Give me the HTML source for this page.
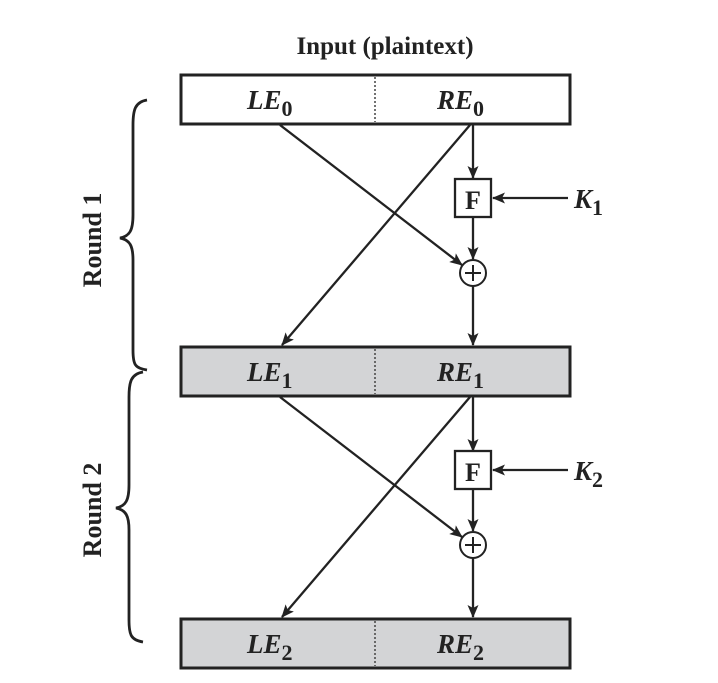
<!DOCTYPE html>
<html><head><meta charset="utf-8"><style>
html,body{margin:0;padding:0;background:#fff;}
svg{display:block;}
text{font-family:"Liberation Serif",serif;font-weight:bold;fill:#222;}
</style></head><body>
<svg width="718" height="683" viewBox="0 0 718 683">
<defs>
<marker id="ah" markerWidth="13" markerHeight="11" refX="12" refY="5.5" orient="auto" markerUnits="userSpaceOnUse">
<path d="M0,0 L13,5.5 L0,11 L3,5.5 Z" fill="#222"/>
</marker>
</defs>
<text x="385" y="54" font-size="25" text-anchor="middle">Input (plaintext)</text>

<g>
<rect x="181" y="75" width="389" height="49" fill="#fff" stroke="#222" stroke-width="3"/>
<line x1="375" y1="77" x2="375" y2="122" stroke="#444" stroke-width="1.5" stroke-dasharray="2,2"/>
<text x="247" y="109" font-size="27" font-style="italic">LE<tspan font-style="normal" font-size="22" dy="7">0</tspan></text>
<text x="437" y="109" font-size="27" font-style="italic">RE<tspan font-style="normal" font-size="22" dy="7">0</tspan></text>
</g>

<g>
<rect x="181" y="347" width="389" height="49" fill="#d3d4d6" stroke="#222" stroke-width="3"/>
<line x1="375" y1="349" x2="375" y2="394" stroke="#444" stroke-width="1.5" stroke-dasharray="2,2"/>
<text x="247" y="381" font-size="27" font-style="italic">LE<tspan font-style="normal" font-size="22" dy="7">1</tspan></text>
<text x="437" y="381" font-size="27" font-style="italic">RE<tspan font-style="normal" font-size="22" dy="7">1</tspan></text>
</g>

<g>
<rect x="181" y="619" width="389" height="49" fill="#d3d4d6" stroke="#222" stroke-width="3"/>
<line x1="375" y1="621" x2="375" y2="666" stroke="#444" stroke-width="1.5" stroke-dasharray="2,2"/>
<text x="247" y="653" font-size="27" font-style="italic">LE<tspan font-style="normal" font-size="22" dy="7">2</tspan></text>
<text x="437" y="653" font-size="27" font-style="italic">RE<tspan font-style="normal" font-size="22" dy="7">2</tspan></text>
</g>

<g stroke="#222" stroke-width="2.3" fill="none">
<line x1="280" y1="125" x2="462" y2="265" marker-end="url(#ah)"/>
<line x1="470" y1="125" x2="282" y2="345" marker-end="url(#ah)"/>
<line x1="473" y1="125" x2="473" y2="178" marker-end="url(#ah)"/>
<line x1="473" y1="218" x2="473" y2="259" marker-end="url(#ah)"/>
<line x1="473" y1="286" x2="473" y2="345" marker-end="url(#ah)"/>
<line x1="568" y1="198" x2="493" y2="198" marker-end="url(#ah)"/>
</g>
<rect x="455" y="179" width="36" height="38" fill="#fff" stroke="#222" stroke-width="2.3"/>
<text x="473" y="209" font-size="26" text-anchor="middle">F</text>
<g stroke="#222" stroke-width="2" fill="#fff">
<circle cx="473" cy="273" r="13"/>
<line x1="465" y1="273" x2="481" y2="273"/><line x1="473" y1="265" x2="473" y2="281"/>
</g>
<text x="574" y="208" font-size="27" font-style="italic">K<tspan font-style="normal" font-size="22" dy="7">1</tspan></text>

<g stroke="#222" stroke-width="2.3" fill="none">
<line x1="280" y1="397" x2="462" y2="537" marker-end="url(#ah)"/>
<line x1="470" y1="397" x2="282" y2="617" marker-end="url(#ah)"/>
<line x1="473" y1="397" x2="473" y2="451" marker-end="url(#ah)"/>
<line x1="473" y1="490" x2="473" y2="531" marker-end="url(#ah)"/>
<line x1="473" y1="558" x2="473" y2="617" marker-end="url(#ah)"/>
<line x1="568" y1="470" x2="493" y2="470" marker-end="url(#ah)"/>
</g>
<rect x="455" y="451" width="36" height="38" fill="#fff" stroke="#222" stroke-width="2.3"/>
<text x="473" y="481" font-size="26" text-anchor="middle">F</text>
<g stroke="#222" stroke-width="2" fill="#fff">
<circle cx="473" cy="545" r="13"/>
<line x1="465" y1="545" x2="481" y2="545"/><line x1="473" y1="537" x2="473" y2="553"/>
</g>
<text x="574" y="480" font-size="27" font-style="italic">K<tspan font-style="normal" font-size="22" dy="7">2</tspan></text>

<path d="M147,100 C135,102 133,110 133,125 L133,215 C133,230 130,236 120,238 C130,240 133,246 133,260 L133,350 C133,365 135,368 147,370" fill="none" stroke="#222" stroke-width="2.8"/>
<path d="M143,372 C131,374 129,382 129,397 L129,485 C129,500 126,506 116,508 C126,510 129,516 129,530 L129,620 C129,635 131,640 143,642" fill="none" stroke="#222" stroke-width="2.8"/>
<text transform="translate(101,240) rotate(-90)" font-size="26" text-anchor="middle">Round 1</text>
<text transform="translate(101,510) rotate(-90)" font-size="26" text-anchor="middle">Round 2</text>
</svg>
</body></html>
